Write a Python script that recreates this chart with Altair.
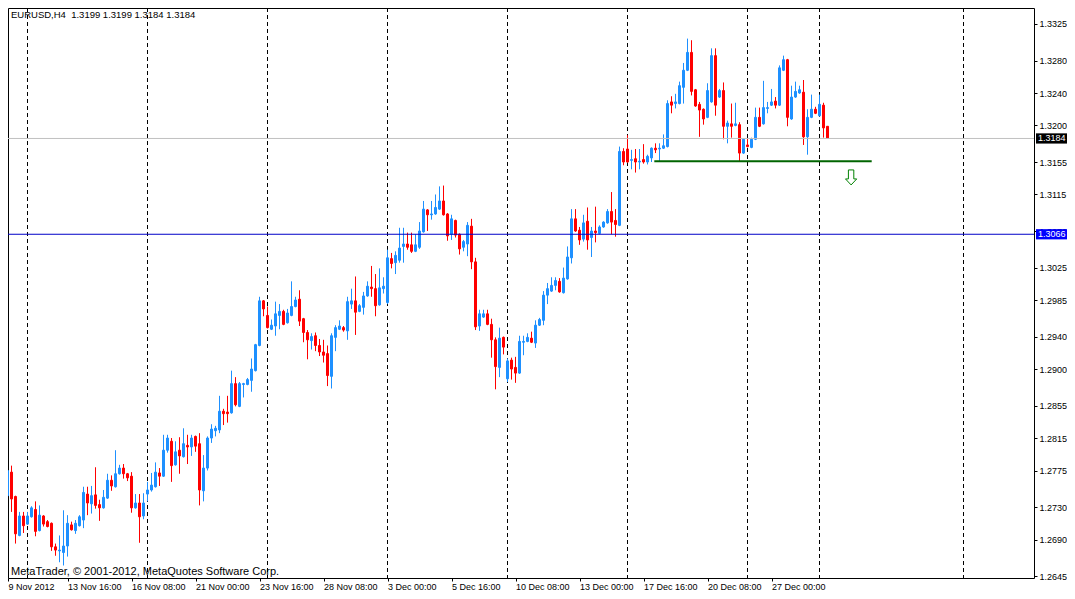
import altair as alt
import pandas as pd

# ---------------- data (EURUSD H4 candles) ----------------
opens = [1.2739, 1.2744, 1.2773, 1.2743, 1.2695, 1.2719, 1.2709, 1.2718, 1.2727, 1.2701,
         1.2719, 1.2712, 1.2710, 1.2681, 1.2676, 1.2674, 1.2682, 1.2708, 1.2701, 1.2707,
         1.2714, 1.2746, 1.2734, 1.2745, 1.2733, 1.2729, 1.2741, 1.2763, 1.2755, 1.2771,
         1.2778, 1.2771, 1.2768, 1.2729, 1.2735, 1.2719, 1.2746, 1.2751, 1.2755, 1.2772,
         1.2768, 1.2800, 1.2811, 1.2782, 1.2800, 1.2792, 1.2806, 1.2804, 1.2817, 1.2808,
         1.2750, 1.2778, 1.2815, 1.2824, 1.2825, 1.2848, 1.2847, 1.2846, 1.2882, 1.2854,
         1.2881, 1.2881, 1.2886, 1.2898, 1.2929, 1.2984, 1.2966, 1.2949, 1.2953, 1.2966,
         1.2971, 1.2957, 1.2966, 1.2977, 1.2986, 1.2962, 1.2945, 1.2935, 1.2941, 1.2929,
         1.2921, 1.2919, 1.2891, 1.2939, 1.2949, 1.2951, 1.2947, 1.2980, 1.2984, 1.2971,
         1.2976, 1.2990, 1.3001, 1.2999, 1.2979, 1.2999, 1.2982, 1.3036, 1.3031, 1.3034,
         1.3051, 1.3054, 1.3053, 1.3045, 1.3050, 1.3069, 1.3096, 1.3090, 1.3091, 1.3097,
         1.3107, 1.3091, 1.3066, 1.3083, 1.3066, 1.3050, 1.3054, 1.3076, 1.3032, 1.2953,
         1.2964, 1.2968, 1.2955, 1.2936, 1.2902, 1.2939, 1.2888, 1.2911, 1.2902, 1.2895,
         1.2933, 1.2934, 1.2938, 1.2932, 1.2954, 1.2960, 1.2991, 1.2996, 1.3003, 1.3008,
         1.2994, 1.3011, 1.3037, 1.3085, 1.3071, 1.3060, 1.3082, 1.3062, 1.3070, 1.3067,
         1.3075, 1.3080, 1.3094, 1.3083, 1.3077, 1.3168, 1.3171, 1.3157, 1.3159, 1.3155,
         1.3158, 1.3155, 1.3160, 1.3172, 1.3171, 1.3172, 1.3174, 1.3229, 1.3227, 1.3227,
         1.3247, 1.3268, 1.3290, 1.3244, 1.3226, 1.3220, 1.3210, 1.3229, 1.3286, 1.3235,
         1.3243, 1.3199, 1.3202, 1.3200, 1.3201, 1.3166, 1.3176, 1.3173, 1.3183, 1.3210,
         1.3202, 1.3221, 1.3225, 1.3230, 1.3225, 1.3268, 1.3281, 1.3208, 1.3235, 1.3240,
         1.3241, 1.3186, 1.3210, 1.3220, 1.3212, 1.3225, 1.3199]
highs = [1.2747, 1.2789, 1.2781, 1.2744, 1.2724, 1.2724, 1.2724, 1.2731, 1.2737, 1.2732,
         1.2720, 1.2714, 1.2711, 1.2685, 1.2695, 1.2726, 1.2720, 1.2712, 1.2714, 1.2720,
         1.2755, 1.2755, 1.2756, 1.2779, 1.2739, 1.2751, 1.2771, 1.2769, 1.2800, 1.2782,
         1.2783, 1.2772, 1.2773, 1.2746, 1.2746, 1.2747, 1.2761, 1.2772, 1.2785, 1.2778,
         1.2819, 1.2819, 1.2815, 1.2811, 1.2816, 1.2827, 1.2819, 1.2819, 1.2818, 1.2821,
         1.2794, 1.2817, 1.2832, 1.2830, 1.2867, 1.2851, 1.2867, 1.2898, 1.2890, 1.2884,
         1.2883, 1.2889, 1.2913, 1.2931, 1.2989, 1.2985, 1.2977, 1.2961, 1.2983, 1.2980,
         1.2973, 1.2974, 1.3008, 1.2989, 1.2997, 1.2963, 1.2948, 1.2944, 1.2945, 1.2937,
         1.2936, 1.2929, 1.2944, 1.2954, 1.2960, 1.2953, 1.2989, 1.2999, 1.3014, 1.2980,
         1.2995, 1.3008, 1.3027, 1.3017, 1.3024, 1.3013, 1.3047, 1.3043, 1.3045, 1.3074,
         1.3074, 1.3068, 1.3068, 1.3066, 1.3081, 1.3107, 1.3097, 1.3107, 1.3115, 1.3125,
         1.3126, 1.3092, 1.3090, 1.3084, 1.3067, 1.3059, 1.3081, 1.3085, 1.3037, 1.2973,
         1.2973, 1.2973, 1.2962, 1.2939, 1.2951, 1.2940, 1.2913, 1.2914, 1.2915, 1.2941,
         1.2941, 1.2944, 1.2946, 1.2960, 1.2963, 1.2996, 1.3006, 1.3013, 1.3013, 1.3012,
         1.3025, 1.3051, 1.3097, 1.3097, 1.3075, 1.3090, 1.3099, 1.3075, 1.3100, 1.3077,
         1.3082, 1.3097, 1.3118, 1.3097, 1.3174, 1.3172, 1.3188, 1.3170, 1.3171, 1.3171,
         1.3177, 1.3164, 1.3173, 1.3178, 1.3178, 1.3189, 1.3231, 1.3236, 1.3239, 1.3254,
         1.3277, 1.3307, 1.3305, 1.3245, 1.3229, 1.3221, 1.3252, 1.3295, 1.3295, 1.3245,
         1.3253, 1.3206, 1.3227, 1.3228, 1.3204, 1.3184, 1.3184, 1.3185, 1.3222, 1.3222,
         1.3255, 1.3229, 1.3245, 1.3235, 1.3274, 1.3286, 1.3282, 1.3249, 1.3254, 1.3249,
         1.3256, 1.3220, 1.3238, 1.3223, 1.3238, 1.3228, 1.3199]
lows = [1.2729, 1.2743, 1.2724, 1.2685, 1.2694, 1.2698, 1.2708, 1.2717, 1.2694, 1.2700,
        1.2706, 1.2705, 1.2676, 1.2670, 1.2662, 1.2658, 1.2669, 1.2701, 1.2697, 1.2706,
        1.2704, 1.2720, 1.2722, 1.2728, 1.2713, 1.2728, 1.2740, 1.2750, 1.2754, 1.2770,
        1.2765, 1.2762, 1.2723, 1.2728, 1.2686, 1.2715, 1.2737, 1.2749, 1.2754, 1.2756,
        1.2767, 1.2797, 1.2761, 1.2781, 1.2771, 1.2791, 1.2783, 1.2793, 1.2798, 1.2732,
        1.2737, 1.2775, 1.2809, 1.2817, 1.2821, 1.2831, 1.2834, 1.2845, 1.2854, 1.2853,
        1.2865, 1.2880, 1.2872, 1.2897, 1.2928, 1.2965, 1.2950, 1.2948, 1.2941, 1.2949,
        1.2954, 1.2956, 1.2965, 1.2976, 1.2953, 1.2933, 1.2912, 1.2924, 1.2922, 1.2916,
        1.2908, 1.2879, 1.2876, 1.2922, 1.2948, 1.2946, 1.2936, 1.2974, 1.2942, 1.2970,
        1.2967, 1.2989, 1.2989, 1.2965, 1.2978, 1.2993, 1.2980, 1.3024, 1.3017, 1.3031,
        1.3031, 1.3047, 1.3043, 1.3044, 1.3048, 1.3068, 1.3070, 1.3084, 1.3090, 1.3096,
        1.3089, 1.3058, 1.3059, 1.3062, 1.3041, 1.3045, 1.3039, 1.3023, 1.2948, 1.2947,
        1.2963, 1.2954, 1.2914, 1.2875, 1.2890, 1.2918, 1.2884, 1.2887, 1.2883, 1.2894,
        1.2917, 1.2933, 1.2932, 1.2926, 1.2953, 1.2954, 1.2980, 1.2995, 1.2997, 1.2994,
        1.2993, 1.3010, 1.3030, 1.3069, 1.3053, 1.3057, 1.3047, 1.3038, 1.3056, 1.3066,
        1.3074, 1.3079, 1.3066, 1.3063, 1.3076, 1.3151, 1.3154, 1.3146, 1.3142, 1.3146,
        1.3153, 1.3152, 1.3155, 1.3166, 1.3155, 1.3171, 1.3173, 1.3215, 1.3221, 1.3226,
        1.3227, 1.3267, 1.3237, 1.3223, 1.3186, 1.3201, 1.3209, 1.3228, 1.3212, 1.3234,
        1.3183, 1.3178, 1.3185, 1.3199, 1.3155, 1.3165, 1.3173, 1.3172, 1.3182, 1.3198,
        1.3201, 1.3215, 1.3224, 1.3221, 1.3224, 1.3267, 1.3199, 1.3207, 1.3234, 1.3239,
        1.3176, 1.3164, 1.3209, 1.3214, 1.3211, 1.3185, 1.3184]
closes = [1.2746, 1.2775, 1.2740, 1.2697, 1.2719, 1.2707, 1.2719, 1.2729, 1.2700, 1.2720,
          1.2709, 1.2706, 1.2681, 1.2677, 1.2677, 1.2682, 1.2710, 1.2702, 1.2710, 1.2718,
          1.2748, 1.2735, 1.2744, 1.2732, 1.2729, 1.2742, 1.2763, 1.2756, 1.2771, 1.2778,
          1.2771, 1.2766, 1.2729, 1.2735, 1.2718, 1.2735, 1.2751, 1.2757, 1.2773, 1.2768,
          1.2800, 1.2815, 1.2781, 1.2798, 1.2793, 1.2808, 1.2804, 1.2815, 1.2805, 1.2751,
          1.2778, 1.2815, 1.2826, 1.2827, 1.2848, 1.2845, 1.2845, 1.2882, 1.2856, 1.2882,
          1.2882, 1.2887, 1.2900, 1.2930, 1.2984, 1.2974, 1.2951, 1.2954, 1.2968, 1.2971,
          1.2955, 1.2969, 1.2977, 1.2985, 1.2959, 1.2945, 1.2936, 1.2940, 1.2929, 1.2921,
          1.2917, 1.2892, 1.2941, 1.2951, 1.2953, 1.2948, 1.2983, 1.2984, 1.2970, 1.2978,
          1.2990, 1.3002, 1.2999, 1.2978, 1.3000, 1.3002, 1.3037, 1.3030, 1.3040, 1.3049,
          1.3054, 1.3050, 1.3045, 1.3053, 1.3070, 1.3097, 1.3090, 1.3091, 1.3099, 1.3107,
          1.3090, 1.3064, 1.3085, 1.3065, 1.3048, 1.3057, 1.3077, 1.3032, 1.2952, 1.2968,
          1.2968, 1.2955, 1.2936, 1.2903, 1.2938, 1.2927, 1.2910, 1.2900, 1.2895, 1.2934,
          1.2934, 1.2939, 1.2933, 1.2954, 1.2961, 1.2991, 1.2999, 1.3003, 1.3009, 1.2995,
          1.3012, 1.3038, 1.3085, 1.3070, 1.3059, 1.3080, 1.3059, 1.3070, 1.3068, 1.3075,
          1.3081, 1.3094, 1.3081, 1.3078, 1.3168, 1.3155, 1.3155, 1.3158, 1.3155, 1.3156,
          1.3155, 1.3162, 1.3172, 1.3170, 1.3172, 1.3175, 1.3227, 1.3225, 1.3229, 1.3249,
          1.3268, 1.3290, 1.3242, 1.3224, 1.3219, 1.3208, 1.3243, 1.3286, 1.3225, 1.3243,
          1.3199, 1.3203, 1.3199, 1.3202, 1.3166, 1.3183, 1.3174, 1.3183, 1.3210, 1.3199,
          1.3222, 1.3222, 1.3229, 1.3225, 1.3271, 1.3281, 1.3210, 1.3235, 1.3242, 1.3244,
          1.3186, 1.3210, 1.3220, 1.3215, 1.3226, 1.3197, 1.3184]

# period separators (candle index of each Monday 00:00 etc.)
sep_idx = [6, 36, 66, 96, 126, 156, 186, 204, 240]
# time axis labels (candle index -> text)
xtick_idx = [0, 16, 32, 48, 64, 80, 96, 112, 128, 144, 160, 176, 192]
xtick_labels = ["9 Nov 2012", "13 Nov 16:00", "16 Nov 08:00", "21 Nov 00:00", "23 Nov 16:00",
                "28 Nov 08:00", "3 Dec 00:00", "5 Dec 16:00", "10 Dec 08:00", "13 Dec 00:00",
                "17 Dec 16:00", "20 Dec 08:00", "27 Dec 00:00"]
ytick_vals = [1.3325, 1.3280, 1.3240, 1.3200, 1.3155, 1.3115, 1.3070, 1.3025, 1.2985,
              1.2940, 1.2900, 1.2855, 1.2815, 1.2775, 1.2730, 1.2690, 1.2645]

bid_price = 1.3184
hline_price = 1.3066
trend_from, trend_to, trend_price = 162.7, 217.05, 1.3156
arrow_idx, arrow_price = 211.9, 1.3136
title_text = "EURUSD,H4\u00a0 1.3199 1.3199 1.3184 1.3184"
copy_text = "MetaTrader, \u00a9 2001-2012, MetaQuotes Software Corp."

# ---------------- styling / layout ----------------
BULL = "#1E90FF"
BEAR = "#FF0000"
FONT = "Liberation Sans"
W, H = 1026, 570          # plot area (page: 8..1034 x 8..578)
PAD_R, PAD_B = 33, 13     # whole chart 1059 x 583 -> fits the 1075x599 page with its 8px margin
X_DOMAIN = [1.125, 1.125 + W / 4.0]      # 4 px per candle
Y_DOMAIN = [1.26426, 1.33447]

df = pd.DataFrame({"i": list(range(len(opens))), "o": opens, "h": highs, "l": lows, "c": closes})
df["col"] = [BULL if c >= o else BEAR for o, c in zip(opens, closes)]

xs = alt.Scale(domain=X_DOMAIN, nice=False, zero=False, padding=0)
ys = alt.Scale(domain=Y_DOMAIN, nice=False, zero=False, padding=0)

# first label sits at the left edge of the visible window
ax_vals = [max(v, X_DOMAIN[0]) for v in xtick_idx]
expr = " : ".join(f"datum.value == {v} ? '{t}'" for v, t in zip(ax_vals, xtick_labels)) + " : ''"

xaxis = alt.Axis(values=ax_vals, labelExpr=expr, orient="bottom", title=None, grid=False,
                 domain=False, tickSize=3, tickColor="black", labelPadding=1,
                 labelAlign="left", labelFlush=False, labelOverlap=False,
                 labelFont=FONT, labelFontSize=9, labelColor="black")
yaxis = alt.Axis(values=ytick_vals, format=".4f", orient="right", title=None, grid=False,
                 domain=False, tickSize=3, tickColor="black", labelPadding=2,
                 labelFlush=False, labelOverlap=False,
                 labelFont=FONT, labelFontSize=9, labelColor="black")

X = lambda f: alt.X(f, type="quantitative", scale=xs, axis=xaxis)
Y = lambda f: alt.Y(f, type="quantitative", scale=ys, axis=yaxis)

seps = alt.Chart(pd.DataFrame({"i": sep_idx})).mark_rule(
    color="black", strokeWidth=1, strokeDash=[4, 3]).encode(x=X("i"))

wicks = alt.Chart(df).mark_rule(strokeWidth=1, clip=True).encode(
    x=X("i"), y=Y("l"), y2="h", color=alt.Color("col:N", scale=None))

bodies = alt.Chart(df).mark_bar(width=2, strokeWidth=1, clip=True).encode(
    x=X("i"), y=Y("o"), y2="c",
    color=alt.Color("col:N", scale=None), stroke=alt.Stroke("col:N", scale=None))

bid = alt.Chart(pd.DataFrame({"p": [bid_price]})).mark_rule(
    color="#C0C0C0", strokeWidth=1).encode(y=Y("p"))
hl = alt.Chart(pd.DataFrame({"p": [hline_price]})).mark_rule(
    color="#0000C8", strokeWidth=1).encode(y=Y("p"))

trend = alt.Chart(pd.DataFrame({"a": [trend_from], "b": [trend_to], "p": [trend_price]})).mark_rule(
    color="#006400", strokeWidth=2).encode(x=X("a"), x2="b", y=Y("p"))

ARROW = "M -0.36 -1 L 0.36 -1 L 0.36 0.2 L 0.75 0.2 L 0 1 L -0.75 0.2 L -0.36 0.2 Z"
arrow = alt.Chart(pd.DataFrame({"i": [arrow_idx], "p": [arrow_price]})).mark_point(
    shape=ARROW, size=225, filled=False, color="#008000", strokeWidth=1, opacity=1).encode(
    x=X("i"), y=Y("p"))

box_df = pd.DataFrame({"p": [bid_price, hline_price],
                       "t": [f"{bid_price:.4f}", f"{hline_price:.4f}"],
                       "bg": ["#000000", "#0000FF"]})
BOX_W = 31.0
BOX = "M -1 -0.33 L 1 -0.33 L 1 0.33 L -1 0.33 Z"
boxes = alt.Chart(box_df).mark_point(shape=BOX, size=BOX_W ** 2, filled=True, strokeWidth=0, opacity=1).encode(
    x=alt.value(W + 2 + BOX_W / 2), y=Y("p"), fill=alt.Fill("bg:N", scale=None))
box_txt = alt.Chart(box_df).mark_text(align="left", baseline="middle", color="white",
                                      font=FONT, fontSize=9).encode(
    x=alt.value(W + 4), y=Y("p"), text="t:N")

title = alt.Chart(pd.DataFrame({"t": [title_text]})).mark_text(
    align="left", baseline="alphabetic", font=FONT, fontSize=9.5, color="black").encode(
    x=alt.value(3), y=alt.value(10), text="t:N")
copyright_ = alt.Chart(pd.DataFrame({"t": [copy_text]})).mark_text(
    align="left", baseline="alphabetic", font=FONT, fontSize=11, color="black").encode(
    x=alt.value(3), y=alt.value(H - 3), text="t:N")

chart = alt.layer(seps, wicks, bodies, bid, hl, trend, arrow, boxes, box_txt, title, copyright_).properties(
    width=W, height=H,
    autosize=alt.AutoSizeParams(type="none"),
    padding={"left": 0, "top": 0, "right": PAD_R, "bottom": PAD_B},
    background="white",
).configure_view(stroke="black", strokeWidth=1)

chart.save("out.html", embed_options={"renderer": "svg", "actions": False})
